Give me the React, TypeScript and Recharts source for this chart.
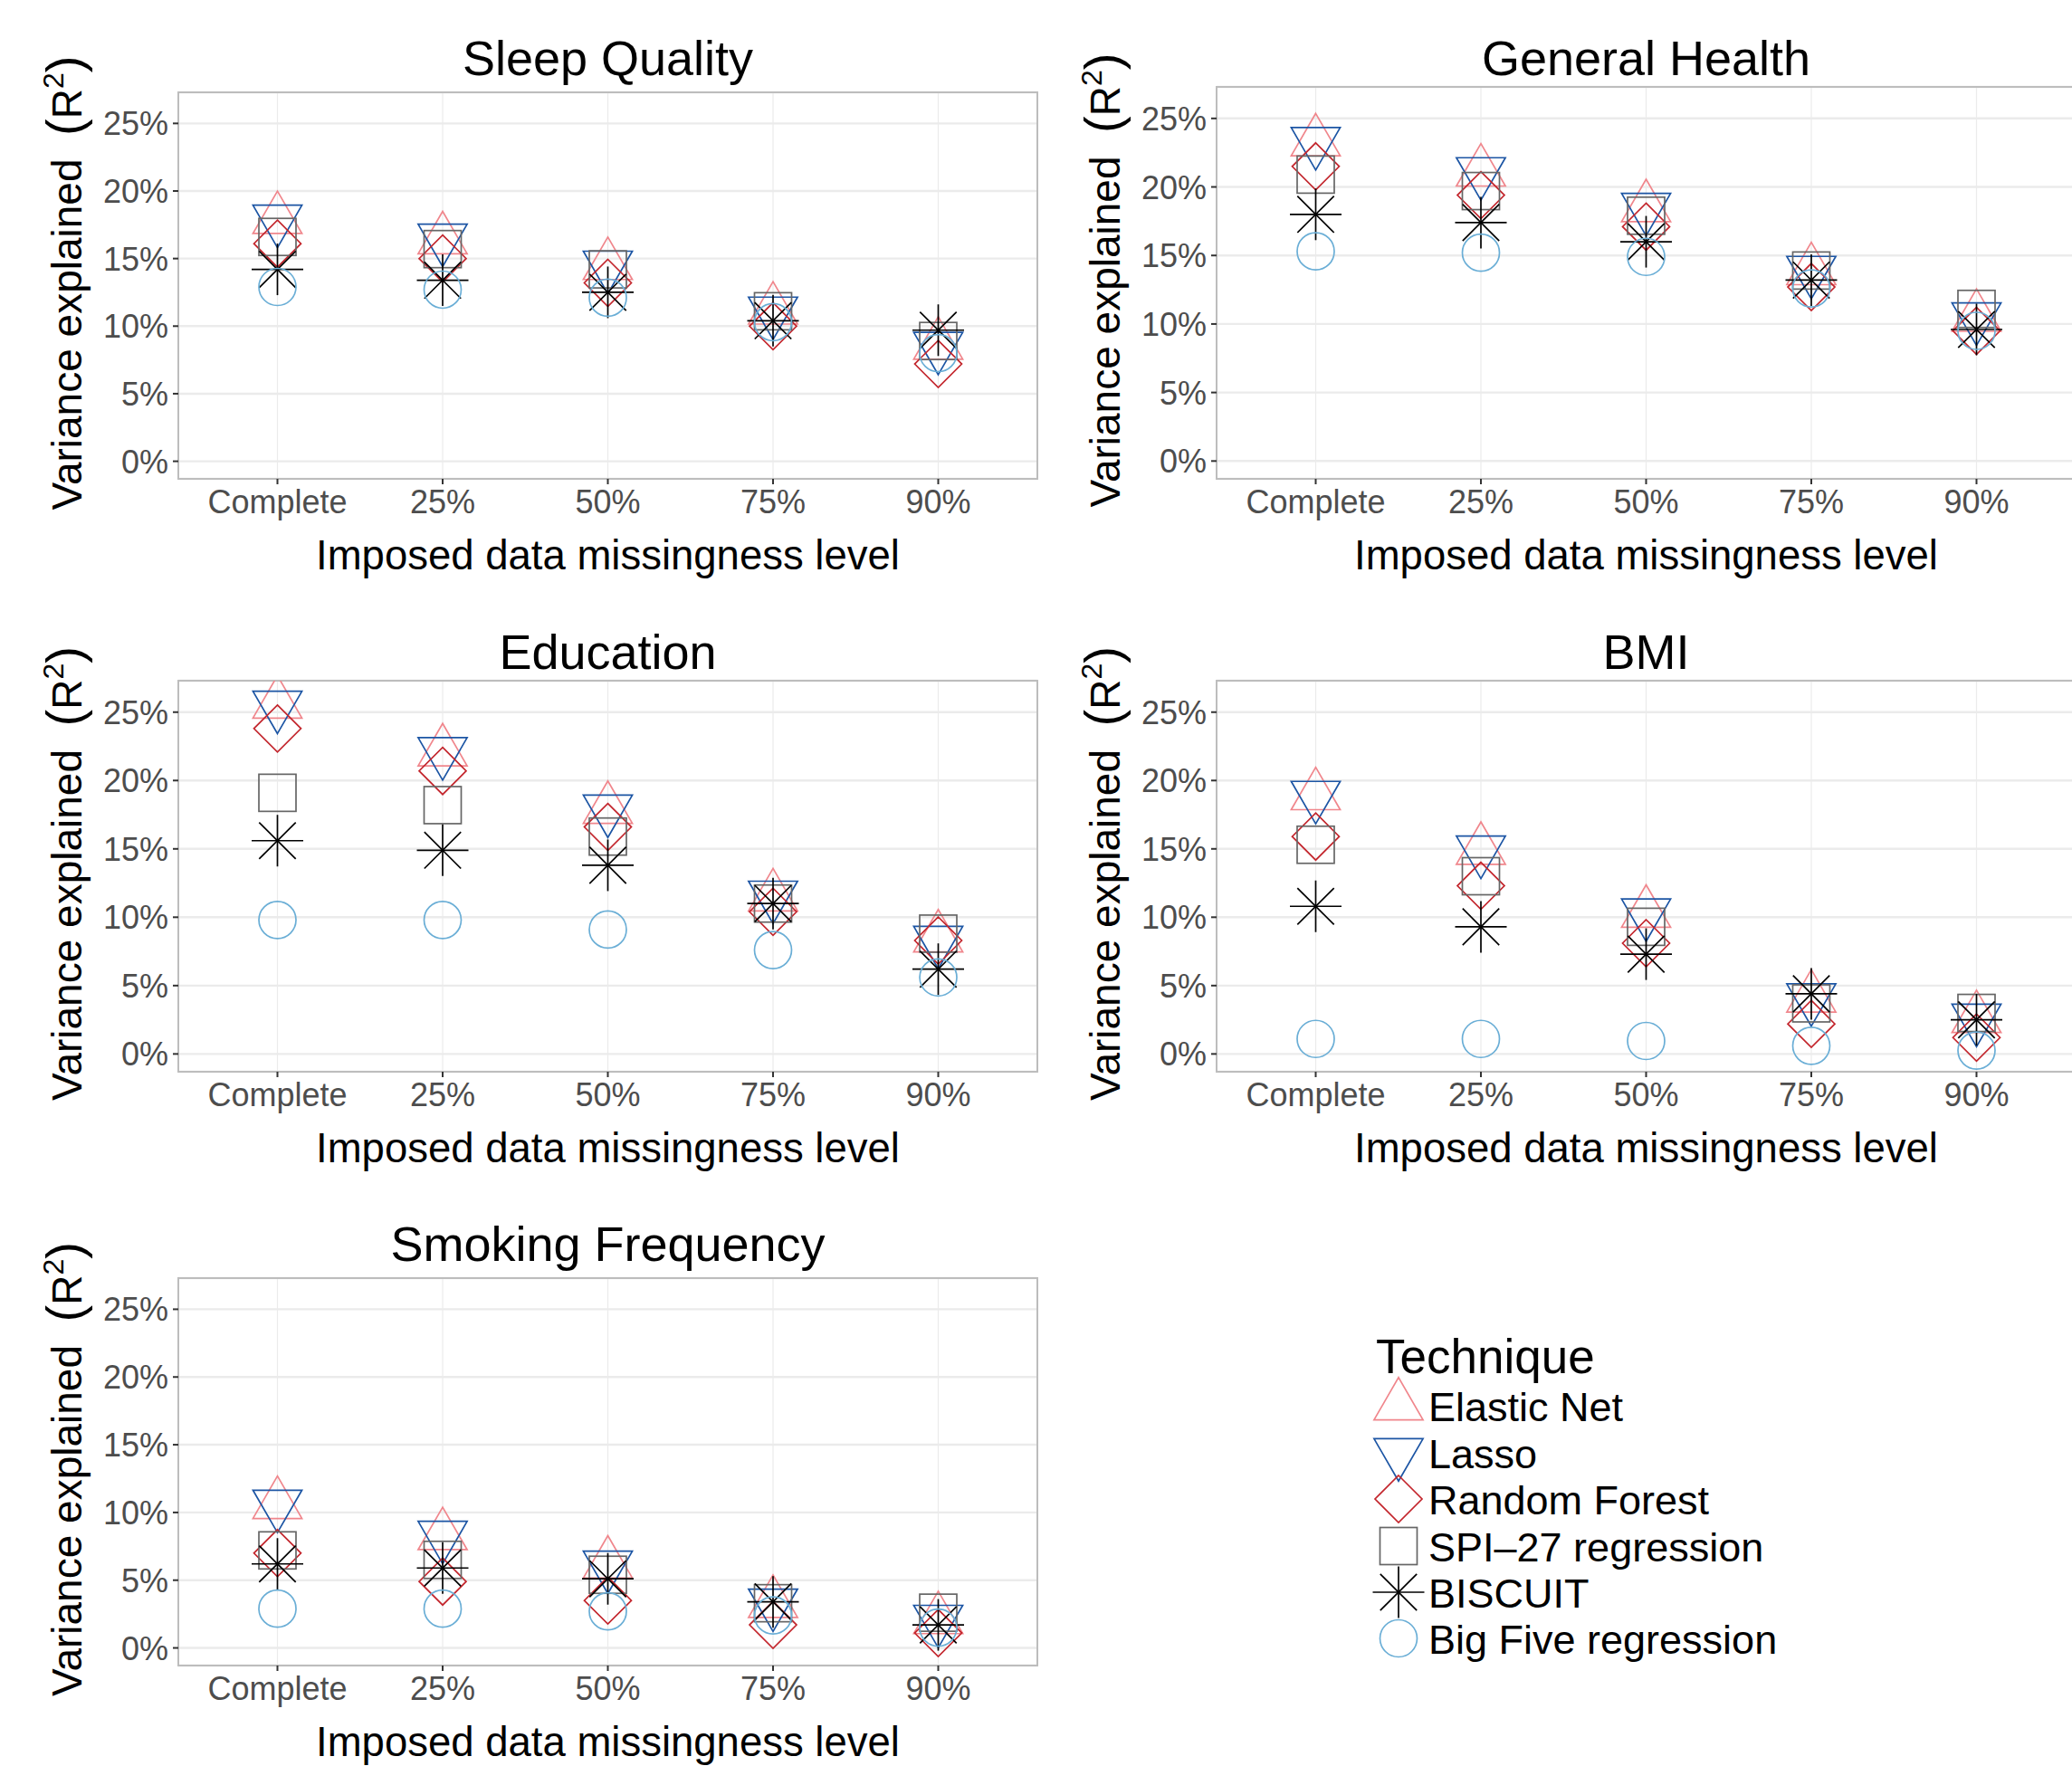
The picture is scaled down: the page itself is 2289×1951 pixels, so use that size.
import React from "react";
import { ScatterChart, Scatter, XAxis, YAxis, CartesianGrid, ReferenceArea } from "recharts";

const levels = ["Complete", "25%", "50%", "75%", "90%"];
const techniques = ["Elastic Net", "Lasso", "Random Forest", "SPI\u201327 regression", "BISCUIT", "Big Five regression"];
const yTicks = [0, 5, 10, 15, 20, 25];

// rows follow the order of `techniques`, columns follow `levels` (R² in %)
const sleepQuality = [
  [17.9, 16.4, 14.5, 11.2, 8.6],
  [17.9, 16.5, 14.5, 11.1, 8.5],
  [16.1, 15.0, 13.2, 10.0, 7.2],
  [16.6, 15.7, 14.2, 11.1, 8.9],
  [14.2, 13.4, 12.5, 10.4, 9.7],
  [12.9, 12.7, 12.1, 10.3, 8.0],
];
const generalHealth = [
  [23.3, 21.1, 18.5, 13.9, 10.5],
  [23.3, 21.1, 18.5, 13.9, 10.5],
  [21.5, 19.4, 17.1, 12.7, 9.5],
  [20.9, 19.7, 17.9, 13.9, 11.1],
  [18.0, 17.4, 16.0, 13.2, 9.6],
  [15.3, 15.2, 14.9, 12.6, 9.5],
];
const education = [
  [25.6, 22.1, 17.9, 11.5, 8.5],
  [25.5, 22.1, 17.9, 11.6, 8.3],
  [23.8, 20.7, 16.6, 10.4, 8.3],
  [19.1, 18.2, 15.9, 11.0, 8.8],
  [15.6, 14.9, 13.8, 11.0, 6.2],
  [9.8, 9.8, 9.1, 7.6, 5.6],
];
const bmi = [
  [18.9, 14.9, 10.3, 4.1, 2.6],
  [18.9, 14.9, 10.3, 4.1, 2.6],
  [15.9, 12.3, 8.1, 2.2, 1.2],
  [15.3, 13.0, 9.3, 3.7, 3.0],
  [10.8, 9.3, 7.3, 4.4, 2.5],
  [1.1, 1.1, 0.95, 0.6, 0.25],
];
const smokingFrequency = [
  [10.6, 8.3, 6.2, 3.3, 2.1],
  [10.6, 8.3, 6.1, 3.3, 2.1],
  [7.0, 4.9, 3.5, 1.7, 1.1],
  [7.2, 6.5, 5.4, 3.3, 2.6],
  [6.2, 5.9, 5.1, 3.4, 1.7],
  [2.9, 2.9, 2.7, 2.4, 1.5],
];

const FONT = '"Liberation Sans", Arial, Helvetica, sans-serif';
const colors = ["#f0868c", "#1c55a4", "#c3262d", "#666666", "#000000", "#6aaed6"];
const kinds = ["up", "down", "diamond", "square", "star", "circle"];

const R = 20.1;
const TRC0 = 1.5551;
const TRC1 = 1.3468;
const TRC2 = 0.7776;
const SW = 1.7;

function Marker({ kind, cx, cy, color }: { kind: string; cx: number; cy: number; color: string }) {
  const common = { fill: "none", stroke: color, strokeWidth: SW };
  if (kind === "up") {
    const pts = `${cx},${cy - TRC0 * R} ${cx + TRC1 * R},${cy + TRC2 * R} ${cx - TRC1 * R},${cy + TRC2 * R}`;
    return <polygon points={pts} {...common} />;
  }
  if (kind === "down") {
    const pts = `${cx},${cy + TRC0 * R} ${cx + TRC1 * R},${cy - TRC2 * R} ${cx - TRC1 * R},${cy - TRC2 * R}`;
    return <polygon points={pts} {...common} />;
  }
  if (kind === "diamond") {
    const d = 26;
    return <polygon points={`${cx},${cy - d} ${cx + d},${cy} ${cx},${cy + d} ${cx - d},${cy}`} {...common} />;
  }
  if (kind === "square") {
    const h = 20.5;
    return <rect x={cx - h} y={cy - h} width={2 * h} height={2 * h} {...common} />;
  }
  if (kind === "circle") {
    return <circle cx={cx} cy={cy} r={20.5} {...common} />;
  }
  const p = 28.5;
  const c = 20.2;
  return (
    <g stroke={color} strokeWidth={SW} fill="none">
      <line x1={cx - p} y1={cy} x2={cx + p} y2={cy} />
      <line x1={cx} y1={cy - p} x2={cx} y2={cy + p} />
      <line x1={cx - c} y1={cy - c} x2={cx + c} y2={cy + c} />
      <line x1={cx - c} y1={cy + c} x2={cx + c} y2={cy - c} />
    </g>
  );
}

const PLOT_LEFT = 197;
const PLOT_W = 949;
const TOP_M = 60;
const XAXIS_H = 120;

const panels = [
  { title: "Sleep Quality", rows: sleepQuality, left: 0, plotTop: 102, plotH: 427, titleY: 83 },
  { title: "General Health", rows: generalHealth, left: 1147, plotTop: 96, plotH: 433, titleY: 83 },
  { title: "Education", rows: education, left: 0, plotTop: 752, plotH: 432, titleY: 739 },
  { title: "BMI", rows: bmi, left: 1147, plotTop: 752, plotH: 432, titleY: 739 },
  { title: "Smoking Frequency", rows: smokingFrequency, left: 0, plotTop: 1412, plotH: 428, titleY: 1393 },
];

function XTick(props: any) {
  const { x, y, payload } = props;
  return (
    <text x={x} y={y} dy={32} textAnchor="middle" fill="#4d4d4d" fontSize={36} fontFamily={FONT}>
      {levels[payload.value - 1]}
    </text>
  );
}

function YTick(props: any) {
  const { x, y, payload } = props;
  return (
    <text x={x} y={y} dy={13} textAnchor="end" fill="#4d4d4d" fontSize={36} fontFamily={FONT}>
      {payload.value}%
    </text>
  );
}

function Panel({ p }: { p: (typeof panels)[number] }) {
  const height = TOP_M + p.plotH + XAXIS_H;
  const width = PLOT_LEFT + PLOT_W + 10;
  const midY = TOP_M + p.plotH / 2 - 3;
  const midX = PLOT_LEFT + PLOT_W / 2;
  return (
    <div style={{ position: "absolute", left: p.left, top: p.plotTop - TOP_M }}>
      <ScatterChart width={width} height={height} margin={{ top: TOP_M, right: 10, bottom: 0, left: 0 }}>
        <CartesianGrid vertical={false} stroke="#ebebeb" strokeWidth={2.4} />
        <CartesianGrid horizontal={false} stroke="#ebebeb" strokeWidth={1.2} />
        <ReferenceArea x1={0.4} x2={5.6} y1={-1.3} y2={27.3} fill="none" stroke="#bdbdbd" strokeWidth={2} />
        <XAxis
          type="number"
          dataKey="x"
          domain={[0.4, 5.6]}
          ticks={[1, 2, 3, 4, 5]}
          allowDataOverflow
          axisLine={false}
          tickLine={{ stroke: "#333333", strokeWidth: 2 }}
          tickSize={6}
          tickMargin={0}
          height={XAXIS_H}
          tick={<XTick />}
          interval={0}
          label={() => (
            <text x={midX} y={TOP_M + p.plotH + 100} textAnchor="middle" fontSize={45.5} fontFamily={FONT} fill="#000">
              Imposed data missingness level
            </text>
          )}
        />
        <YAxis
          type="number"
          dataKey="y"
          domain={[-1.3, 27.3]}
          ticks={yTicks}
          allowDataOverflow
          axisLine={false}
          tickLine={{ stroke: "#333333", strokeWidth: 2 }}
          tickSize={6}
          tickMargin={5}
          width={PLOT_LEFT}
          tick={<YTick />}
          interval={0}
          label={() => (
            <text
              transform={`translate(${PLOT_LEFT - 107},${midY}) rotate(-90)`}
              textAnchor="middle"
              fontSize={46}
              fontFamily={FONT}
              fill="#000"
            >
              {"Variance explained\u00a0\u00a0"}
              <tspan fontSize={56}>(</tspan>
              <tspan>R</tspan>
              <tspan fontSize={32} dy={-20}>2</tspan>
              <tspan fontSize={56} dy={20}>)</tspan>
            </text>
          )}
        />
        {techniques.map((t, k) => (
          <Scatter
            key={t}
            name={t}
            data={p.rows[k].map((v, i) => ({ x: i + 1, y: v }))}
            isAnimationActive={false}
            shape={(s: any) => <Marker kind={kinds[k]} cx={s.cx} cy={s.cy} color={colors[k]} />}
          />
        ))}
      </ScatterChart>
      <svg
        width={width}
        height={120}
        style={{ position: "absolute", left: 0, top: p.titleY - p.plotTop + TOP_M - 90, pointerEvents: "none" }}
      >
        <text x={midX} y={90} textAnchor="middle" fontSize={54} fontFamily={FONT} fill="#000">
          {p.title}
        </text>
      </svg>
    </div>
  );
}

function TechniqueLegend() {
  const rowY = [113, 165, 216, 268, 319, 370];
  return (
    <svg width={560} height={420} style={{ position: "absolute", left: 1480, top: 1440 }}>
      <text x={40} y={77} fontSize={53} fontFamily={FONT} fill="#000">
        Technique
      </text>
      {techniques.map((t, k) => (
        <g key={t}>
          <Marker kind={kinds[k]} cx={65} cy={rowY[k]} color={colors[k]} />
          <text x={98} y={rowY[k] + 16.5} fontSize={45} fontFamily={FONT} fill="#000">
            {t}
          </text>
        </g>
      ))}
    </svg>
  );
}

export default function App() {
  return (
    <div
      style={{
        position: "absolute",
        left: 0,
        top: 0,
        width: 2289,
        height: 1951,
        overflow: "hidden",
        background: "#fff",
        fontFamily: FONT,
      }}
    >
      {panels.map((p) => (
        <Panel key={p.title} p={p} />
      ))}
      <TechniqueLegend />
    </div>
  );
}
